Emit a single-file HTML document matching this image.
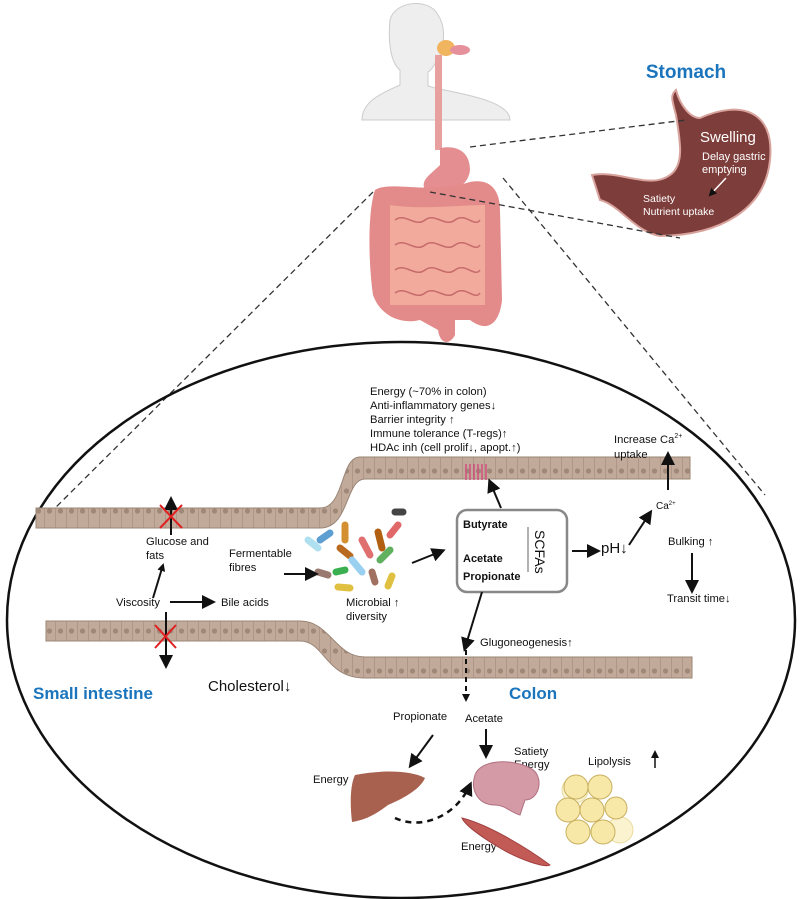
<!DOCTYPE html>
<html><head><meta charset="utf-8"><style>
html,body{margin:0;padding:0;background:#fff}
svg{display:block;font-family:"Liberation Sans",sans-serif}
</style></head><body>
<svg width="800" height="899" viewBox="0 0 800 899">
<defs>
<marker id="ah" markerWidth="8" markerHeight="8" refX="6" refY="4" orient="auto" markerUnits="userSpaceOnUse"><path d="M0,0 L8,4 L0,8z" fill="#111"/></marker>
<marker id="ahb" markerWidth="14" markerHeight="14" refX="10" refY="7" orient="auto" markerUnits="userSpaceOnUse"><path d="M0,0 L14,7 L0,14z" fill="#111"/></marker>
<pattern id="cells" width="11" height="20" patternUnits="userSpaceOnUse"><rect width="11" height="20" fill="#c2aa9a"/><line x1="0" y1="0" x2="0" y2="20" stroke="#8f7a6c" stroke-width="0.8"/><circle cx="5.5" cy="11" r="2.6" fill="#a08878"/></pattern>
</defs>
<path d="M362,120 C362,100 385,92 400,85 L400,70 C390,62 388,40 390,20 C395,0 430,-2 438,15 C445,25 445,40 440,55 C436,62 432,70 428,72 L428,86 C445,92 510,98 510,120 Z" fill="#eeeeee" stroke="#ccc"/>
<ellipse cx="446" cy="48" rx="9" ry="8" fill="#f1b560"/>
<ellipse cx="460" cy="50" rx="10" ry="5" fill="#e5909a"/>
<rect x="435" y="55" width="7" height="95" fill="#e7a09e"/>
<path d="M440,148 C455,145 470,150 470,170 C468,188 450,195 425,190 C420,180 430,175 440,165z" fill="#e48e91"/>
<path d="M375,190 C390,180 430,195 470,182 C490,178 500,190 500,210 L502,300 C500,320 490,335 470,320 L455,320 L455,335 C450,345 440,345 438,330 L420,320 C400,325 380,315 373,295 C368,260 368,210 375,190z" fill="#e38b8a"/>
<path d="M390,205 C420,210 460,205 485,205 L485,305 L390,305 z" fill="#f2aa9c"/>
<g stroke="#c76c6c" fill="none" stroke-width="1.5">
<path d="M395,220 c10,-8 20,8 30,0 s20,8 30,0 s20,8 25,0"/>
<path d="M395,245 c10,-8 20,8 30,0 s20,8 30,0 s20,8 25,0"/>
<path d="M395,270 c10,-8 20,8 30,0 s20,8 30,0 s20,8 25,0"/>
<path d="M395,293 c10,-8 20,8 30,0 s20,8 30,0 s20,8 25,0"/>
</g>
<text x="686" y="78" font-size="19" font-weight="bold" fill="#1b75bc" text-anchor="middle">Stomach</text>
<path d="M676,90 C680,105 690,118 700,118 C740,100 775,110 770,160 C765,210 720,235 660,236 C635,232 620,205 600,200 L592,175 C620,170 650,190 670,175 C685,165 680,140 676,115 C672,100 670,95 676,90z" fill="#7d3d3a" stroke="#d9a39d" stroke-width="2"/>
<text x="700" y="142" font-size="15" fill="#fff">Swelling</text>
<text x="702" y="160" font-size="11" fill="#fff">Delay gastric</text>
<text x="702" y="173" font-size="11" fill="#fff">emptying</text>
<text x="643" y="202" font-size="10.5" fill="#fff">Satiety</text>
<text x="643" y="215" font-size="10.5" fill="#fff">Nutrient uptake</text>
<line x1="726" y1="178" x2="710" y2="195" stroke="#fff" stroke-width="1.5" marker-end="url(#ah)"/>
<g stroke="#333" stroke-width="1.3" stroke-dasharray="6,4" fill="none">
<line x1="470" y1="147" x2="686" y2="120"/>
<line x1="430" y1="192" x2="680" y2="238"/>
<line x1="373" y1="192" x2="38" y2="525"/>
<line x1="503" y1="178" x2="765" y2="495"/>
</g>
<ellipse cx="401" cy="620" rx="394" ry="278" fill="none" stroke="#111" stroke-width="2.5"/>
<path d="M36,508 L320,508 C345,508 340,457 360,457 L690,457 L690,479 L365,479 C345,479 350,528 320,528 L36,528 Z" fill="url(#cells)" stroke="#9a8576"/>
<path d="M46,621 L300,621 C330,621 335,657 365,657 L692,657 L692,678 L365,678 C325,678 325,641 300,641 L46,641 Z" fill="url(#cells)" stroke="#9a8576"/>
<g stroke="#d0507a" stroke-width="1.5" fill="none"><path d="M466,464 v16 m4,-16 v16 m4,-16 v16 m4,-16 v16 m4,-16 v16 m4,-16 v16"/></g>
<g font-size="11.2" fill="#111">
<text x="370" y="395">Energy (~70% in colon)</text>
<text x="370" y="409">Anti-inflammatory genes↓</text>
<text x="370" y="423">Barrier integrity ↑</text>
<text x="370" y="437">Immune tolerance (T-regs)↑</text>
<text x="370" y="451">HDAc inh (cell prolif↓, apopt.↑)</text>
<text x="614" y="443">Increase Ca<tspan font-size="7" dy="-5">2+</tspan></text>
<text x="614" y="458">uptake</text>
<text x="656" y="509" font-size="10">Ca<tspan font-size="6" dy="-4">2+</tspan></text>
<text x="146" y="545">Glucose and</text>
<text x="146" y="559">fats</text>
<text x="229" y="557">Fermentable</text>
<text x="229" y="571">fibres</text>
<text x="116" y="606">Viscosity</text>
<text x="221" y="606">Bile acids</text>
<text x="346" y="606">Microbial ↑</text>
<text x="346" y="620">diversity</text>
<text x="668" y="545">Bulking ↑</text>
<text x="667" y="602">Transit time↓</text>
<text x="480" y="646">Glugoneogenesis↑</text>
<text x="393" y="720">Propionate</text>
<text x="465" y="722">Acetate</text>
<text x="514" y="755">Satiety</text>
<text x="514" y="768">Energy</text>
<text x="588" y="765">Lipolysis</text>
<text x="313" y="783">Energy</text>
<text x="461" y="850">Energy</text>
</g>
<text x="208" y="691" font-size="15" fill="#111">Cholesterol↓</text>
<text x="33" y="699" font-size="17" font-weight="bold" fill="#1b75bc">Small intestine</text>
<text x="509" y="699" font-size="17" font-weight="bold" fill="#1b75bc">Colon</text>
<rect x="457" y="510" width="110" height="82" rx="10" fill="#fff" stroke="#888" stroke-width="2.5"/>
<g font-size="11" font-weight="bold" fill="#111"><text x="463" y="528">Butyrate</text><text x="463" y="562">Acetate</text><text x="463" y="580">Propionate</text></g>
<line x1="528" y1="527" x2="528" y2="572" stroke="#999" stroke-width="1.5"/>
<text x="0" y="0" font-size="14" fill="#111" transform="translate(535,530) rotate(90)">SCFAs</text>
<text x="601" y="553" font-size="15" fill="#111">pH↓</text>
<g stroke-linecap="round" stroke-width="7">
<line x1="320" y1="540" x2="330" y2="533" stroke="#5c9fd0"/>
<line x1="345" y1="525" x2="345" y2="540" stroke="#d49030"/>
<line x1="362" y1="540" x2="370" y2="555" stroke="#e07070"/>
<line x1="378" y1="532" x2="382" y2="548" stroke="#b06010"/>
<line x1="390" y1="535" x2="398" y2="525" stroke="#e06868"/>
<line x1="395" y1="512" x2="403" y2="512" stroke="#444"/>
<line x1="308" y1="540" x2="318" y2="548" stroke="#aee0f0"/>
<line x1="340" y1="548" x2="350" y2="556" stroke="#b86a20"/>
<line x1="352" y1="560" x2="362" y2="572" stroke="#9ad0ef"/>
<line x1="380" y1="560" x2="390" y2="550" stroke="#60b060"/>
<line x1="336" y1="572" x2="345" y2="570" stroke="#3bb050"/>
<line x1="318" y1="572" x2="328" y2="575" stroke="#9a7a70"/>
<line x1="372" y1="572" x2="375" y2="582" stroke="#a07060"/>
<line x1="392" y1="576" x2="388" y2="586" stroke="#e0c040"/>
<line x1="338" y1="587" x2="350" y2="588" stroke="#e0c040"/>
</g>
<g stroke="#111" stroke-width="2" fill="none">
<line x1="171" y1="535" x2="171" y2="500" marker-end="url(#ahb)"/>
<line x1="153" y1="598" x2="163" y2="565" marker-end="url(#ah)"/>
<line x1="170" y1="602" x2="212" y2="602" marker-end="url(#ahb)"/>
<line x1="166" y1="612" x2="166" y2="665" marker-end="url(#ahb)"/>
<line x1="284" y1="574" x2="315" y2="574" marker-end="url(#ahb)"/>
<line x1="412" y1="563" x2="442" y2="551" marker-end="url(#ahb)"/>
<line x1="501" y1="508" x2="490" y2="482" marker-end="url(#ahb)"/>
<line x1="572" y1="551" x2="597" y2="551" marker-end="url(#ahb)"/>
<line x1="629" y1="545" x2="650" y2="513" marker-end="url(#ahb)"/>
<line x1="668" y1="490" x2="668" y2="455" marker-end="url(#ahb)"/>
<line x1="692" y1="553" x2="692" y2="590" marker-end="url(#ahb)"/>
<line x1="482" y1="592" x2="465" y2="648" marker-end="url(#ahb)"/>
<line x1="433" y1="735" x2="411" y2="765" marker-end="url(#ahb)"/>
<line x1="486" y1="729" x2="486" y2="755" marker-end="url(#ahb)"/>
<line x1="466" y1="650" x2="466" y2="700" stroke-dasharray="5,4" marker-end="url(#ah)"/>
<line x1="655" y1="768" x2="655" y2="752" stroke-width="1.5" marker-end="url(#ah)"/>
<path d="M395,818 C420,830 455,818 470,785" stroke-dasharray="6,5" stroke-width="2.5" marker-end="url(#ahb)"/>
</g>
<g stroke="#e02020" stroke-width="2"><line x1="160" y1="505" x2="182" y2="528"/><line x1="182" y1="505" x2="160" y2="528"/>
<line x1="155" y1="625" x2="176" y2="648"/><line x1="176" y1="625" x2="155" y2="648"/></g>
<path d="M355,775 C380,770 410,770 425,778 C420,790 400,800 388,805 C375,815 365,820 352,822 C350,805 350,785 355,775z" fill="#a8614f"/>
<path d="M475,775 C480,760 510,758 530,768 C545,775 540,800 525,800 L520,815 C510,812 505,805 495,805 C478,805 470,790 475,775z" fill="#d49aa6" stroke="#b07080"/>
<path d="M462,818 C490,825 530,850 550,865 C545,868 520,860 500,848 C480,836 465,825 462,818z" fill="#c25a55" stroke="#a04040"/>
<g fill="#f7e8a8" stroke="#c8b060">
<circle cx="575" cy="790" r="13" fill="#fbf2d0" stroke="#e8dca0"/><circle cx="620" cy="830" r="13" fill="#fbf2d0" stroke="#e8dca0"/>
<circle cx="576" cy="787" r="12"/><circle cx="600" cy="787" r="12"/><circle cx="568" cy="810" r="12"/><circle cx="592" cy="810" r="12"/><circle cx="616" cy="808" r="11"/><circle cx="578" cy="832" r="12"/><circle cx="603" cy="832" r="12"/>
</g>
</svg>
</body></html>
